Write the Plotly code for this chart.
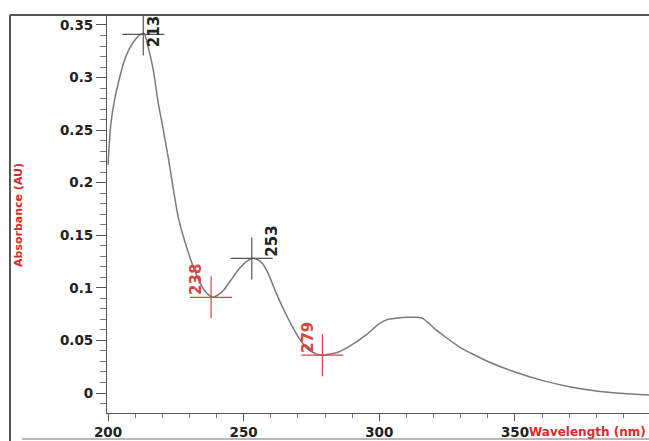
import plotly.graph_objects as go

# Spectrum (wavelength nm, absorbance AU)
wavelength = [200, 201, 202.5, 204.4, 206, 208, 210, 212, 213.3, 214.8, 216.7, 218.5, 220.4,
              222.2, 223.7, 225.9, 229.3, 233, 236, 238.5, 241, 243, 246, 249, 251, 253, 255, 257,
              259, 262, 265, 268, 271, 274, 277, 279, 282, 285, 290, 295, 300, 303, 306, 310,
              314, 316, 318, 320, 324, 330, 340, 350, 360, 370, 380, 390, 400]
absorbance = [0.217, 0.255, 0.28, 0.301, 0.316, 0.328, 0.336, 0.341, 0.342, 0.329, 0.307, 0.276, 0.25,
              0.224, 0.2, 0.167, 0.136, 0.110, 0.096, 0.091, 0.094, 0.099, 0.110, 0.120, 0.125, 0.128, 0.127, 0.123,
              0.114, 0.095, 0.078, 0.063, 0.05, 0.041, 0.037, 0.036, 0.037, 0.039, 0.046, 0.055, 0.066, 0.07, 0.071, 0.072,
              0.072, 0.071, 0.067, 0.062, 0.054, 0.043, 0.03, 0.02, 0.012, 0.006, 0.002, -0.0005, -0.002]

# Labelled peaks / valleys
peak_nm = [213, 253]
peak_abs = [0.341, 0.128]
valley_nm = [238, 279]
valley_abs = [0.091, 0.036]

y_ticks = [0, 0.05, 0.1, 0.15, 0.2, 0.25, 0.3, 0.35]
y_ticklabels = ["0", "0.05", "0.1", "0.15", "0.2", "0.25", "0.3", "0.35"]
x_ticks = [200, 250, 300, 350]

FONT = "DejaVu Sans"
RED = "#d9443f"
TITLE_RED = "#d92b2b"

fig = go.Figure()

fig.add_trace(go.Scatter(x=wavelength, y=absorbance, mode="lines",
                         line=dict(color="#7a7a7a", width=1.5, shape="spline", smoothing=0.5),
                         hoverinfo="skip", showlegend=False))

fig.add_trace(go.Scatter(x=peak_nm, y=peak_abs, mode="markers",
                         marker=dict(symbol="cross-thin", size=30, line=dict(color="#555555", width=1.2)),
                         showlegend=False, hoverinfo="skip"))
fig.add_trace(go.Scatter(x=valley_nm, y=valley_abs, mode="markers",
                         marker=dict(symbol="cross-thin", size=30, line=dict(color=RED, width=1.2)),
                         showlegend=False, hoverinfo="skip"))

# rotated labels
peak_shift = [(0, -15), (9, 0)]
for (nm, a), (dx, dy) in zip(zip(peak_nm, peak_abs), peak_shift):
    fig.add_annotation(x=nm, y=a, text=str(nm), textangle=-90, showarrow=False,
                       xanchor="left", yanchor="bottom", xshift=dx, yshift=dy,
                       font=dict(family=FONT, size=15, color="#222222", weight="bold"))
for nm, a in zip(valley_nm, valley_abs):
    fig.add_annotation(x=nm, y=a, text=str(nm), textangle=-90, showarrow=False,
                       xanchor="right", yanchor="bottom", xshift=-4, yshift=0,
                       font=dict(family=FONT, size=15, color=RED, weight="bold"))

fig.add_annotation(xref="paper", yref="paper", x=(527-107)/542, y=(413-432)/398, xanchor="left", yanchor="middle",
                   text="Wavelength (nm)", showarrow=False,
                   font=dict(family=FONT, size=12, color=TITLE_RED, weight="bold"))
fig.add_annotation(xref="paper", yref="paper", x=(19-107)/542, y=(413-215)/398, xanchor="center", yanchor="middle",
                   text="Absorbance (AU)", textangle=-90, showarrow=False,
                   font=dict(family=FONT, size=11, color=TITLE_RED, weight="bold"))

# outer frame lines (paper coords: plot area x 107..649 px (542), y 15..413 px (398))
fig.add_shape(type="line", xref="paper", yref="paper", x0=(10-107)/542, x1=1.0, y0=1.0, y1=1.0,
              line=dict(color="#555555", width=2))
fig.add_shape(type="line", xref="paper", yref="paper", x0=(10-107)/542, x1=(10-107)/542,
              y0=1.0, y1=(413-441)/398, line=dict(color="#555555", width=2))
fig.add_shape(type="line", xref="paper", yref="paper", x0=(22-107)/542, x1=1.0,
              y0=(413-439)/398, y1=(413-439)/398, line=dict(color="#b8b8b8", width=2))

fig.update_layout(
    width=649, height=441,
    margin=dict(l=107, r=0, t=15, b=28),
    paper_bgcolor="white", plot_bgcolor="white",
    xaxis=dict(range=[199.63, 399.4], tickvals=x_ticks, ticktext=[str(v) for v in x_ticks],
               showgrid=False, zeroline=False, showline=True, linecolor="#555555", linewidth=1.2,
               ticks="outside", ticklen=7, tickcolor="#555555",
               minor=dict(dtick=10, ticks="outside", ticklen=4, tickcolor="#777777"),
               tickfont=dict(family=FONT, size=13.5, color="#222222", weight="bold")),
    yaxis=dict(range=[-0.019, 0.3595], tickvals=y_ticks, ticktext=y_ticklabels,
               showgrid=False, zeroline=False, showline=True, linecolor="#555555", linewidth=1.2,
               ticks="outside", ticklen=10, tickcolor="#555555",
               minor=dict(dtick=0.01, ticks="outside", ticklen=6, tickcolor="#777777"),
               tickfont=dict(family=FONT, size=13.5, color="#222222", weight="bold")),
)

fig.write_html("out.html", config={"displayModeBar": False},
               post_script="document.body.style.margin='0';document.body.style.overflow='hidden';")
